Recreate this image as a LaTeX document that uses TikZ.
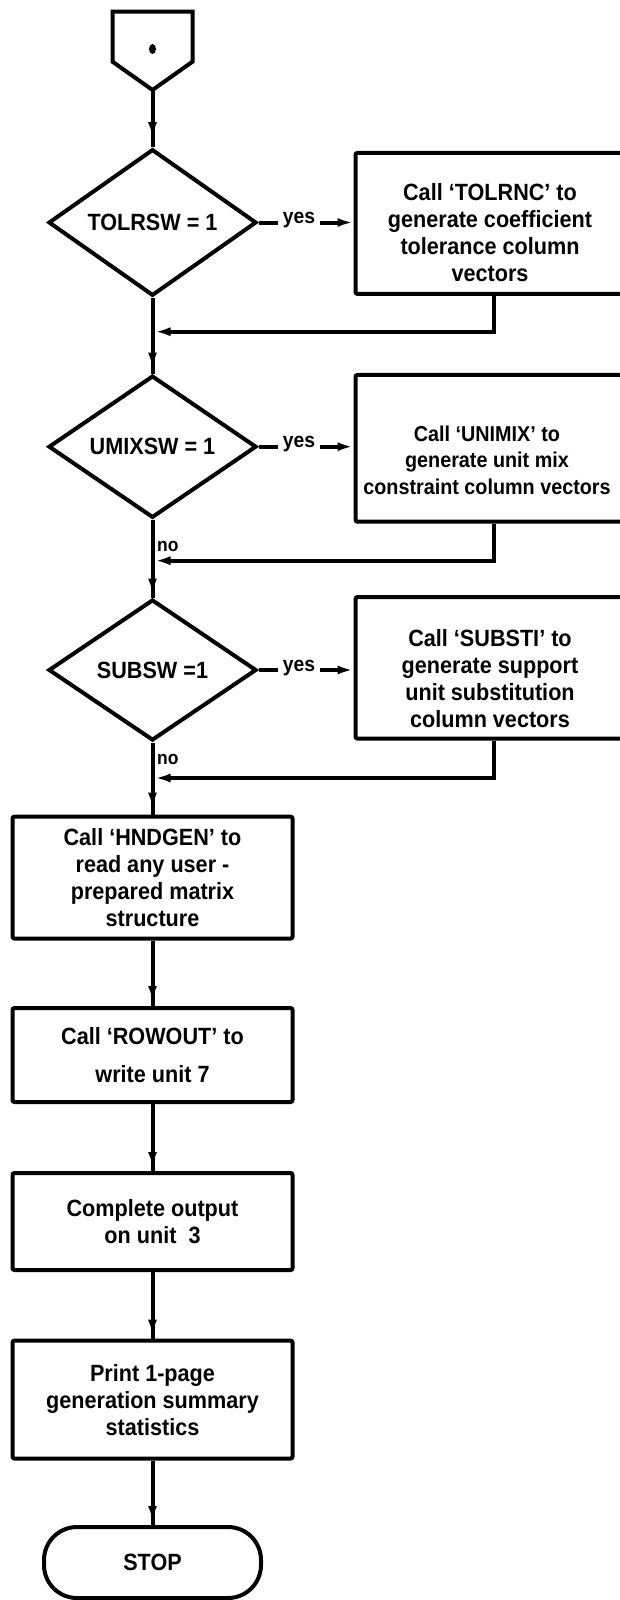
\documentclass[tikz,border=0pt]{standalone}
\usepackage{fontspec}
\setmainfont{Liberation Sans}[FakeStretch=0.92]
\usetikzlibrary{shapes.geometric,arrows.meta,decorations.markings,calc}
\begin{document}
\begin{tikzpicture}[x=1pt,y=-1pt,
  every node/.style={font=\fontsize{23.5}{27}\selectfont\bfseries},
  ln/.style={line width=4pt},
  dec/.style={draw,ln,diamond,minimum width=208pt,minimum height=141pt,inner sep=0pt},
  box/.style={draw,ln,rectangle,rounded corners=2pt,inner sep=0pt,align=center},
  txt/.style={align=center,inner sep=0pt},
  tipat/.style={postaction={decorate},decoration={markings,mark=at position #1 with {\arrow{Latex[length=16pt,width=9pt]}}}},
  arr/.style={ln,-{Latex[length=16pt,width=9pt]}},
  lbl/.style={font=\fontsize{21}{21}\selectfont\bfseries,inner xsep=5pt,inner ysep=2pt,fill=white},
  nolbl/.style={font=\fontsize{19}{19}\selectfont\bfseries,inner sep=0pt,anchor=west}
]
\useasboundingbox (0,0) rectangle (619,1600);

% start connector (pentagon)
\draw[ln,line join=miter] (112.5,11.7) -- (192.5,11.7) -- (192.5,61.7) -- (152.5,90) -- (112.5,61.7) -- cycle;
\fill (152.5,49) ellipse (3.5pt and 5pt);
\coordinate (starttip) at (152.5,90);

% decisions
\node[dec] (d1) at (152.5,222.5) {TOLRSW = 1};
\node[dec] (d2) at (152.5,446.7) {UMIXSW = 1};
\node[dec] (d3) at (152.5,670) {SUBSW =1};

% right boxes
\node[box,minimum width=276pt,minimum height=141pt] (b1) at (493.5,223.4) {};
\node[txt] (b1t) at (490,233) {Call `TOLRNC' to\\generate coefficient\\tolerance column\\vectors};
\node[box,minimum width=276pt,minimum height=146.7pt] (b2) at (493.5,448.3) {};
\node[txt,font=\fontsize{21.5}{26.5}\selectfont\bfseries] (b2t) at (487,460) {Call `UNIMIX' to\\generate unit mix\\constraint column vectors};
\node[box,minimum width=276pt,minimum height=141.5pt] (b3) at (493.5,667.8) {};
\node[txt] (b3t) at (490,679) {Call `SUBSTI' to\\generate support\\unit substitution\\column vectors};

% main column boxes
\node[box,minimum width=280pt,minimum height=122pt] (b4) at (152.5,877.6) {Call `HNDGEN' to\\read any user -\\prepared matrix\\structure};
\node[box,minimum width=280pt,minimum height=94pt] (b5) at (152.5,1055) {Call `ROWOUT' to\\[11pt]write unit 7};
\node[box,minimum width=280pt,minimum height=97pt] (b6) at (152.5,1221.5) {Complete output\\on unit~~3};
\node[box,minimum width=280pt,minimum height=118pt] (b7) at (152.5,1399.6) {Print 1-page\\generation summary\\statistics};
\node[draw,ln,rectangle,rounded corners=33pt,minimum width=217pt,minimum height=71pt,inner sep=0pt] (stop) at (152.5,1562.5) {STOP};

% junction points on the main line
\coordinate (j1) at (152.5,331.7);
\coordinate (j2) at (152.5,560.7);
\coordinate (j3) at (152.5,778);

% main flow
\draw[ln,tipat=-9pt] (starttip) -- (d1.north);
\draw[ln,tipat=-5pt] (d1.south) -- (d2.north);
\draw[ln,tipat=-3pt] (d2.south) -- (d3.north);
\draw[ln,tipat=-6pt] (d3.south) -- (b4.north);
\draw[ln,tipat=-4pt] (b4.south) -- (b5.north);
\draw[ln,tipat=-3pt] (b5.south) -- (b6.north);
\draw[ln,tipat=-3pt] (b6.south) -- (b7.north);
\draw[ln,tipat=-3pt] (b7.south) -- (stop.north);

% yes branches
\draw[arr] (d1.east) -- (d1.east -| b1.west);
\node[lbl] (y1) at (299,220) {yes};
\draw[arr] (d2.east) -- (d2.east -| b2.west);
\node[lbl] (y2) at (299,444.5) {yes};
\draw[arr] (d3.east) -- (d3.east -| b3.west);
\node[lbl] (y3) at (299,668) {yes};

% returns
\draw[arr,shorten >=2pt] (b1.south) -- (b1.south |- j1) -- (j1);
\draw[arr,shorten >=2pt] (b2.south) -- (b2.south |- j2) -- (j2);
\draw[arr,shorten >=2pt] (b3.south) -- (b3.south |- j3) -- (j3);

% no labels
\node[nolbl] (n2) at (157,546.5) {no};
\node[nolbl] (n3) at (157,759) {no};
\end{tikzpicture}
\end{document}
